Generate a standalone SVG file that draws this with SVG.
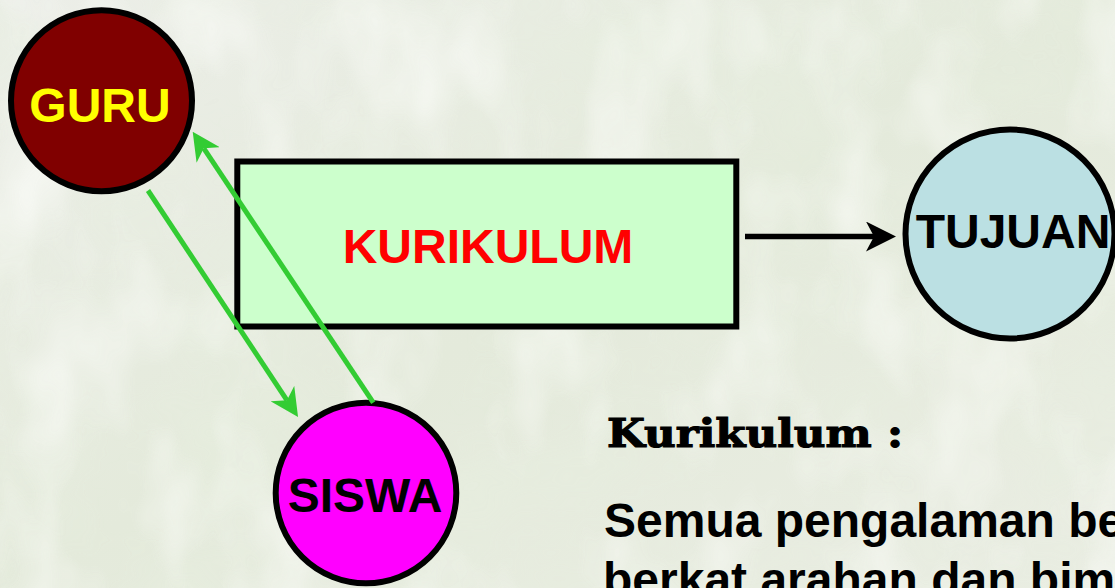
<svg xmlns="http://www.w3.org/2000/svg" width="1115" height="588" viewBox="0 0 1115 588">
  <defs>
    <style>
      .node { stroke: #000; stroke-width: 6; }
      .label { font-family: "Liberation Sans", Arial, sans-serif; font-weight: bold; font-size: 48px; text-anchor: middle; }
      .body { font-family: "Liberation Sans", Arial, sans-serif; font-weight: bold; font-size: 48px; fill: #000; }
      .heading { font-family: "DejaVu Serif", "Liberation Serif", serif; font-weight: bold; font-size: 40px; fill: #000; stroke: #000; stroke-width: 1.2; }
      .flow { stroke: #33CC33; stroke-width: 5; fill: none; }
      .link { stroke: #000; stroke-width: 5.5; fill: none; }
    </style>
    <linearGradient id="bgGrad" x1="0" y1="0" x2="1" y2="1">
      <stop offset="0" stop-color="#ECEEE8"/>
      <stop offset="0.5" stop-color="#E4EADB"/>
      <stop offset="1" stop-color="#EAEDE3"/>
    </linearGradient>
    <filter id="leafTexture" x="0" y="0" width="100%" height="100%">
      <feTurbulence type="fractalNoise" baseFrequency="0.006 0.009" numOctaves="4" seed="7" result="noise"/>
      <feColorMatrix in="noise" type="matrix"
        values="0 0 0 0 0.80
                0 0 0 0 0.86
                0 0 0 0 0.74
                0 0 0 -1.8 1.15"/>
    </filter>
    <filter id="lightTexture" x="0" y="0" width="100%" height="100%">
      <feTurbulence type="fractalNoise" baseFrequency="0.012 0.007" numOctaves="3" seed="3" result="noise"/>
      <feColorMatrix in="noise" type="matrix"
        values="0 0 0 0 0.97
                0 0 0 0 0.98
                0 0 0 0 0.95
                0 0 0 2.2 -1.0"/>
    </filter>
    <marker id="greenHead" viewBox="0 0 28 28" refX="8" refY="14" markerWidth="28" markerHeight="28" markerUnits="userSpaceOnUse" orient="auto">
      <path d="M0,0 L28,14 L0,28 L8,14 Z" fill="#33CC33"/>
    </marker>
    <marker id="blackHead" viewBox="0 0 30 30" refX="8" refY="15" markerWidth="30" markerHeight="30" markerUnits="userSpaceOnUse" orient="auto">
      <path d="M0,0 L30,15 L0,30 L8,15 Z" fill="#000"/>
    </marker>
  </defs>

  <!-- backdrop -->
  <rect x="0" y="0" width="1115" height="588" fill="url(#bgGrad)"/>
  <rect x="0" y="0" width="1115" height="588" filter="url(#leafTexture)" opacity="0.6"/>
  <rect x="0" y="0" width="1115" height="588" filter="url(#lightTexture)" opacity="0.7"/>

  <g id="kurikulum">
    <rect class="node" x="237.3" y="161.5" width="499" height="165" fill="#CCFFCC" stroke-width="6.5"/>
    <text class="label" x="488" y="262.5" fill="#FF0000">KURIKULUM</text>
  </g>

  <g id="guru">
    <circle class="node" cx="101.5" cy="100.7" r="90.5" fill="#800000"/>
    <text class="label" x="100" y="122" fill="#FFFF00">GURU</text>
  </g>

  <g id="tujuan">
    <circle class="node" cx="1010" cy="234" r="104.5" fill="#BBE0E3"/>
    <text class="label" x="1013" y="248" fill="#000">TUJUAN</text>
  </g>

  <g id="siswa">
    <circle class="node" cx="366" cy="493" r="90.3" fill="#FF00FF"/>
    <text class="label" x="365" y="511.5" fill="#000">SISWA</text>
  </g>

  <!-- connectors, drawn over the box -->
  <g id="connectors">
    <line class="flow" x1="148" y1="190.5" x2="287" y2="400.3" marker-end="url(#greenHead)"/>
    <line class="flow" x1="373.3" y1="402.7" x2="203.8" y2="148.3" marker-end="url(#greenHead)"/>
    <line class="link" x1="745" y1="236.5" x2="874" y2="236.5" marker-end="url(#blackHead)"/>
  </g>

  <g id="definition">
    <text class="heading" x="607" y="447" textLength="296" lengthAdjust="spacingAndGlyphs">Kurikulum :</text>
    <text class="body" x="604" y="537">Semua pengalaman be</text>
    <text class="body" x="603" y="596">berkat arahan dan bim</text>
  </g>
</svg>
